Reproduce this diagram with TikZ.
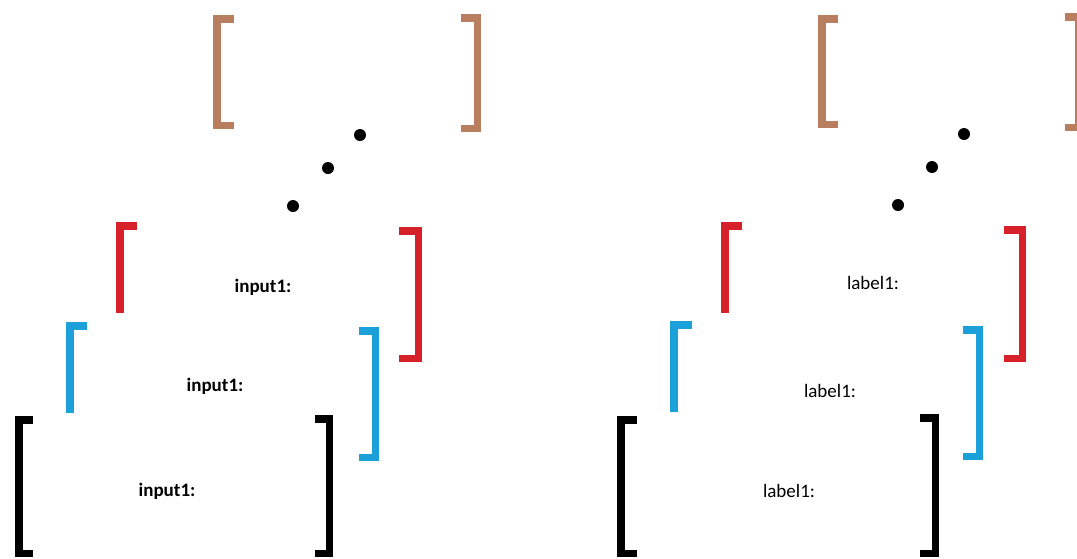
\documentclass[tikz,border=0pt]{standalone}
\usepackage{fontspec}
\setmainfont{Carlito}
\definecolor{brk brown}{RGB}{185,126,96}
\definecolor{brk red}{RGB}{214,32,42}
\definecolor{brk blue}{RGB}{28,160,218}
\begin{document}
\begin{tikzpicture}[x=1pt, y=-1pt,
  brk/.style={line width=7.5pt, line join=miter, line cap=butt},
  lbl/.style={font=\fontsize{19}{23}\selectfont, inner sep=0pt}]
\useasboundingbox (0,0) rectangle (1077,558);
% ===== Left group =====
% top brackets
\draw[brk, brk brown] (234,18.75) -- (216.75,18.75) -- (216.75,125.25) -- (234,125.25);
\draw[brk, brk brown] (461,17.75) -- (477.25,17.75) -- (477.25,128.25) -- (461,128.25);
% dots
\fill (360,135) circle (6);
\fill (328,168) circle (6);
\fill (293,206) circle (6);
% --- red ---
\draw[brk, brk red] (137,225.75) -- (119.75,225.75) -- (119.75,313);
\draw[brk, brk red] (399,230.75) -- (418.25,230.75) -- (418.25,358.25) -- (399,358.25);
\node[lbl, font=\fontsize{19}{23}\selectfont\bfseries] (inRed) at (263,287) {input1:};
% --- blue ---
\draw[brk, brk blue] (87,325.75) -- (69.75,325.75) -- (69.75,413);
\draw[brk, brk blue] (359,330.75) -- (375.25,330.75) -- (375.25,457.25) -- (359,457.25);
\node[lbl, font=\fontsize{19}{23}\selectfont\bfseries] (inBlue) at (215,386) {input1:};
% --- black ---
\draw[brk, black] (33,419.75) -- (18.75,419.75) -- (18.75,553.5) -- (33,553.5);
\draw[brk, black] (315,418.75) -- (329.25,418.75) -- (329.25,553.5) -- (315,553.5);
\node[lbl, font=\fontsize{19}{23}\selectfont\bfseries] (inBlack) at (167,491) {input1:};
% ===== Right group =====
% top brackets
\draw[brk, brk brown] (838,18.75) -- (821.75,18.75) -- (821.75,124.25) -- (838,124.25);
\draw[brk, brk brown] (1065,16.75) -- (1079,16.75) -- (1079,127.25) -- (1065,127.25);
% dots
\fill (964,134) circle (6);
\fill (932,167) circle (6);
\fill (898,205) circle (6);
% --- red ---
\draw[brk, brk red] (742,225.75) -- (724.75,225.75) -- (724.75,313);
\draw[brk, brk red] (1004,229.75) -- (1022.25,229.75) -- (1022.25,358.25) -- (1004,358.25);
\node[lbl] (lbRed) at (873,283) {label1:};
% --- blue ---
\draw[brk, brk blue] (692,324.75) -- (673.75,324.75) -- (673.75,412);
\draw[brk, brk blue] (963,329.75) -- (979.25,329.75) -- (979.25,456.25) -- (963,456.25);
\node[lbl] (lbBlue) at (830,391) {label1:};
% --- black ---
\draw[brk, black] (637,419.75) -- (620.75,419.75) -- (620.75,553.5) -- (637,553.5);
\draw[brk, black] (920,417.75) -- (935.25,417.75) -- (935.25,553.5) -- (920,553.5);
\node[lbl] (lbBlack) at (789,491) {label1:};
\end{tikzpicture}
\end{document}
